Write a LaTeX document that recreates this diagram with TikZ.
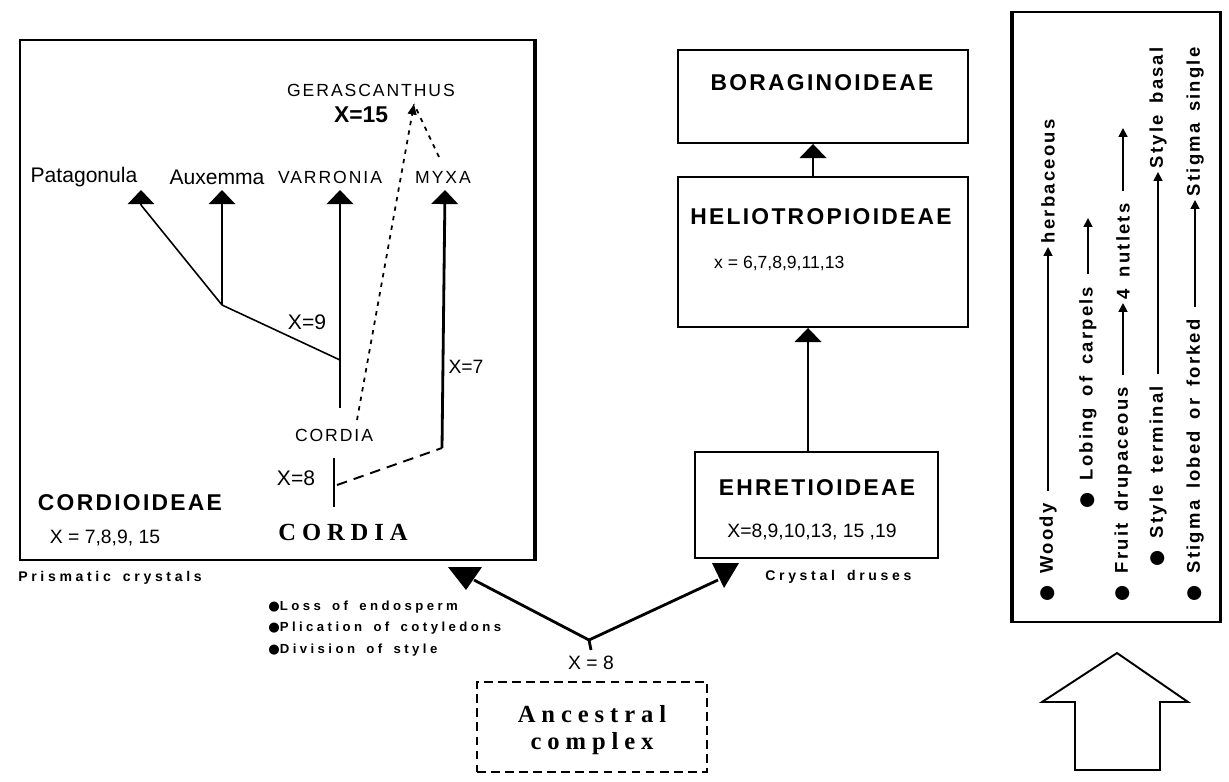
\documentclass[tikz,border=0pt]{standalone}
\usepackage{fontspec}
\setmainfont{Liberation Sans}
\newfontfamily\capsfont[LetterSpace=11]{Liberation Sans}
\newfontfamily\famfont[LetterSpace=10]{Liberation Sans}
\newfontfamily\notefont[LetterSpace=26,WordSpace=1.6]{Liberation Sans}
\newfontfamily\legfont[LetterSpace=12,WordSpace=1.6]{Liberation Sans}
\newfontfamily\slabfont[LetterSpace=24]{Liberation Serif}
\newfontfamily\dotfont{DejaVu Sans}
\usetikzlibrary{arrows.meta}

\newcommand{\blt}{{\dotfont ●}}

\tikzset{
  box/.style={draw, line width=1.1pt, inner sep=0pt},
  branch/.style={line width=0.9pt},
  stem/.style={line width=1.6pt},
  tipup/.style={-{Triangle[width=15pt,length=8pt]}},
  smalltip/.style={-{Triangle[width=5pt,length=6pt]}},
  dotline/.style={line width=1pt, dash pattern=on 2.5pt off 3pt},
  dashline/.style={line width=1.1pt, dash pattern=on 6pt off 4pt},
  legtip/.style={line width=1pt, shorten <=5pt, -{Triangle[width=5pt,length=5pt]}},
  genus/.style={font=\fontsize{12}{14}\selectfont},
  capsname/.style={font=\capsfont\fontsize{10}{12}\selectfont},
  subfam/.style={font=\famfont\bfseries\fontsize{13}{15}\selectfont},
  chrom/.style={font=\fontsize{11}{13}\selectfont},
  note/.style={font=\notefont\bfseries\fontsize{8}{10}\selectfont, inner sep=0pt, anchor=west},
  legtext/.style={font=\legfont\bfseries\fontsize{10.5}{12}\selectfont, rotate=90, anchor=west, inner sep=2pt},
  slab/.style={font=\slabfont\bfseries\fontsize{14}{15}\selectfont},
}

\begin{document}
\begin{tikzpicture}[x=0.02cm, y=-0.02cm]
  \useasboundingbox (0,0) rectangle (1229,781);

  \node[box, minimum width=10.28cm, minimum height=10.4cm] (cord) at (277,300) {};
  \draw[line width=2.2pt] (cord.north east) -- (cord.south east);
  \node[box, minimum width=5.8cm, minimum height=1.86cm] (bor) at (823,96.5) {};
  \node[box, minimum width=5.8cm, minimum height=3cm] (hel) at (823,252) {};
  \node[box, minimum width=4.86cm, minimum height=2.12cm] (ehr) at (816.5,505) {};
  \node[box, dash pattern=on 5pt off 3pt, minimum width=4.6cm, minimum height=1.8cm] (anc) at (592,727) {};
  \node[box, minimum width=4.14cm, minimum height=12.2cm] (leg) at (1116.5,317) {};
  \draw[line width=2pt] (leg.north west) -- (leg.south west);
  \draw[line width=1.6pt] (leg.north east) -- (leg.south east);

  \node[genus] (pat) at (84,177) {Patagonula};
  \node[genus] (aux) at (217,177) {Auxemma};
  \node[capsname] (var) at (330,177) {VARRONIA};
  \node[capsname] (myx) at (443,177) {MYXA};
  \node[capsname] (ger) at (371,90) {GERASCANTHUS};
  \node[font=\bfseries\fontsize{13}{15}\selectfont] (x15) at (361,115) {X=15};
  \node[chrom, font=\fontsize{12}{14}\selectfont] (x9) at (307,322) {X=9};
  \node[chrom] (x7) at (466,367) {X=7};
  \node[capsname] (cor) at (334,435) {CORDIA};
  \node[chrom, font=\fontsize{12}{14}\selectfont] (x8) at (296,478) {X=8};
  \node[slab] (cordia) at (343,532) {CORDIA};
  \node[subfam] (cordioid) at (130,503) {CORDIOIDEAE};
  \node[chrom] (cx) at (105,538) {X = 7,8,9, 15};
  \node[note] (prism) at (18,578) {Prismatic crystals};

  \coordinate (patT) at (141,190);
  \coordinate (patB) at (141,205);
  \coordinate (auxT) at (222,190);
  \coordinate (varT) at (340,190);
  \coordinate (myxT) at (445,190);
  \coordinate (gerT) at (414,104);
  \coordinate (j1) at (222,305);
  \coordinate (j2) at (340,360);
  \coordinate (varB) at (340,408);
  \coordinate (myxB) at (442,448);
  \coordinate (ddB) at (357,420);
  \coordinate (ddM) at (439,157);
  \coordinate (corT) at (334,458);
  \coordinate (corB) at (334,507);
  \coordinate (corM) at (337,485);

  \draw[branch] (j1) -- (patB);
  \draw[branch, tipup] (patB) -- (patT);
  \draw[branch, tipup] (j1) -- (auxT);
  \draw[branch] (j1) -- (j2);
  \draw[stem, tipup] (varB) -- (varT);
  \draw[stem, tipup] (myxB) -- (myxT);
  \draw[dotline, smalltip] (ddB) -- (gerT);
  \draw[dotline] (ddM) -- (gerT);
  \draw[stem] (corT) -- (corB);
  \draw[dashline] (corM) -- (myxB);

  \node[subfam] (bort) at (822,83) {BORAGINOIDEAE};
  \node[subfam] (helt) at (821,217) {HELIOTROPIOIDEAE};
  \node[chrom, anchor=west, font=\fontsize{10}{12}\selectfont] (helx) at (708,263) {x = 6,7,8,9,11,13};
  \node[subfam] (ehrt) at (817,488) {EHRETIOIDEAE};
  \node[chrom] (ehrx) at (812,532) {X=8,9,10,13, 15 ,19};
  \node[note] (drus) at (765,577) {Crystal druses};

  \draw[stem, tipup] ([xshift=-0.17cm]ehr.north) -- ([xshift=-0.17cm]ehr.north |- hel.south);
  \draw[stem, tipup] ([xshift=-0.2cm]hel.north) -- ([xshift=-0.2cm]bor.south);

  \coordinate (jn) at (589,640);
  \node[chrom] (ax) at (591,663) {X = 8};
  \node[slab, align=center] (anct) at (592,730) {Ancestral\\complex};
  \node[note, font=\notefont\bfseries\fontsize{7.5}{9}\selectfont] (b1) at (268,607) {\blt Loss of endosperm};
  \node[note, font=\notefont\bfseries\fontsize{7.5}{9}\selectfont] (b2) at (268,628) {\blt Plication of cotyledons};
  \node[note, font=\notefont\bfseries\fontsize{7.5}{9}\selectfont] (b3) at (268,650) {\blt Division of style};

  \coordinate (ltE) at (474,580);
  \coordinate (rtE) at (718,580);
  \draw[stem] (ax.north) -- (jn);
  \draw[stem] (jn) -- (ltE);
  \draw[stem] (jn) -- (rtE);
  \fill (448,567) -- (482,567) -- (466,590) -- cycle;
  \fill (712,563) -- (739,563) -- (724,588) -- cycle;

  \node[legtext] (w1) at (1048,605) {\blt\ Woody};
  \node[legtext] (w2) at (1048,247) {herbaceous};
  \node[legtext] (l1) at (1088,512) {\blt\ Lobing of carpels};
  \coordinate (l2) at (1088,218);
  \node[legtext] (f1) at (1123,605) {\blt\ Fruit drupaceous};
  \node[legtext] (f2) at (1123,303) {4 nutlets};
  \coordinate (f3) at (1123,128);
  \node[legtext] (s1) at (1158,570) {\blt\ Style terminal};
  \node[legtext] (s2) at (1158,172) {Style basal};
  \node[legtext] (g1) at (1195,605) {\blt\ Stigma lobed or forked};
  \node[legtext] (g2) at (1195,200) {Stigma single};

  \draw[legtip] (w1.east) -- (w2.west);
  \draw[legtip] (l1.east) -- (l2);
  \draw[legtip] (f1.east) -- (f2.west);
  \draw[legtip] (f2.east) -- (f3);
  \draw[legtip] (s1.east) -- (s2.west);
  \draw[legtip] (g1.east) -- (g2.west);

  \draw[line width=1.1pt] (1117,653) -- (1188,702) -- (1160,702) -- (1160,770)
    -- (1075,770) -- (1075,702) -- (1042,702) -- cycle;
\end{tikzpicture}
\end{document}
